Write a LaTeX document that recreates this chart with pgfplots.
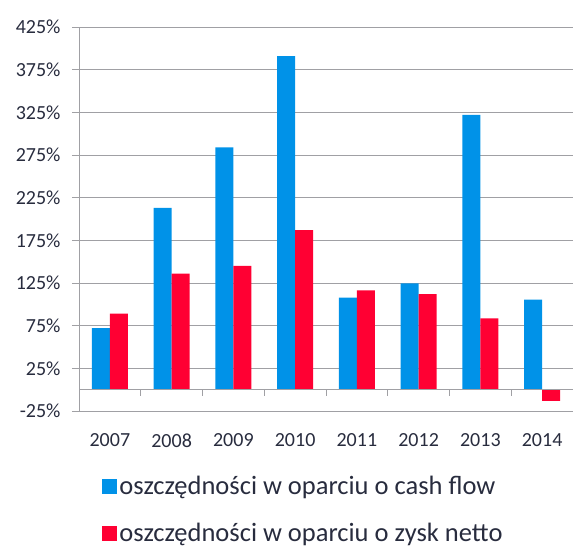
\documentclass[border=0pt]{standalone}
\usepackage{pgfplots}
\pgfplotsset{compat=1.18}
\usepackage{fontspec}
\setmainfont{Carlito}
\definecolor{cfblue}{RGB}{0,146,232}
\definecolor{znred}{RGB}{255,0,51}
\definecolor{gridgray}{RGB}{160,160,164}
\definecolor{txt}{RGB}{40,44,62}

\begin{document}
\begin{tikzpicture}
\useasboundingbox (0,0) rectangle (573bp,552bp);
\begin{axis}[
  at={(79bp,141bp)}, anchor=south west,
  scale only axis, width=494bp, height=384bp,
  ybar=0pt, bar width=18bp,
  xmin=-0.5, xmax=7.5, ymin=-25, ymax=425,
  xtick={0,...,7}, xticklabels={2007,2008,2009,2010,2011,2012,2013,2014},
  ytick={-25,25,75,125,175,225,275,325,375,425},
  yticklabel={\pgfmathprintnumber{\tick}\%},
  /pgf/number format/assume math mode=true,
  ymajorgrids, grid style={gridgray, line width=1bp},
  axis lines*=left,
  axis line style={gridgray, line width=1bp},
  x axis line style={draw=none},
  major x tick style={draw=none},
  y tick style={gridgray, line width=1bp},
  tick align=outside, major tick length=7bp,
  ticklabel style={font=\fontsize{20bp}{24bp}\selectfont, text=txt},
  xticklabel style={yshift=-12bp},
  yticklabel style={xshift=-8bp},
  legend style={draw=none, fill=none, at={(0.04,-0.158)}, anchor=north west,
    font=\fontsize{26.5bp}{30bp}\selectfont, text=txt, row sep=22bp,
    nodes={inner sep=2.5bp}},
  legend cell align=left,
]
\addplot[fill=cfblue, draw=none,
  legend image code/.code={\fill[cfblue] (0pt,-7.5pt) rectangle (15pt,7.5pt);}]
  coordinates {(0,72) (1,213) (2,284) (3,391) (4,108) (5,124.5) (6,322) (7,105.5)};
\addplot[fill=znred, draw=none,
  legend image code/.code={\fill[znred] (0pt,-7.5pt) rectangle (15pt,7.5pt);}]
  coordinates {(0,89) (1,136) (2,145) (3,187) (4,116.5) (5,112) (6,83.5) (7,-13)};
\legend{oszczędności w oparciu o cash flow, oszczędności w oparciu o zysk netto}
\draw[gridgray, line width=1bp] (axis cs:-0.5,0) -- (axis cs:7.5,0);
\pgfplotsinvokeforeach{0.5,1.5,2.5,3.5,4.5,5.5,6.5}{
  \draw[gridgray, line width=1bp] (axis cs:#1,0) -- ++(0pt,-6pt);
}
\end{axis}
\end{tikzpicture}
\end{document}
